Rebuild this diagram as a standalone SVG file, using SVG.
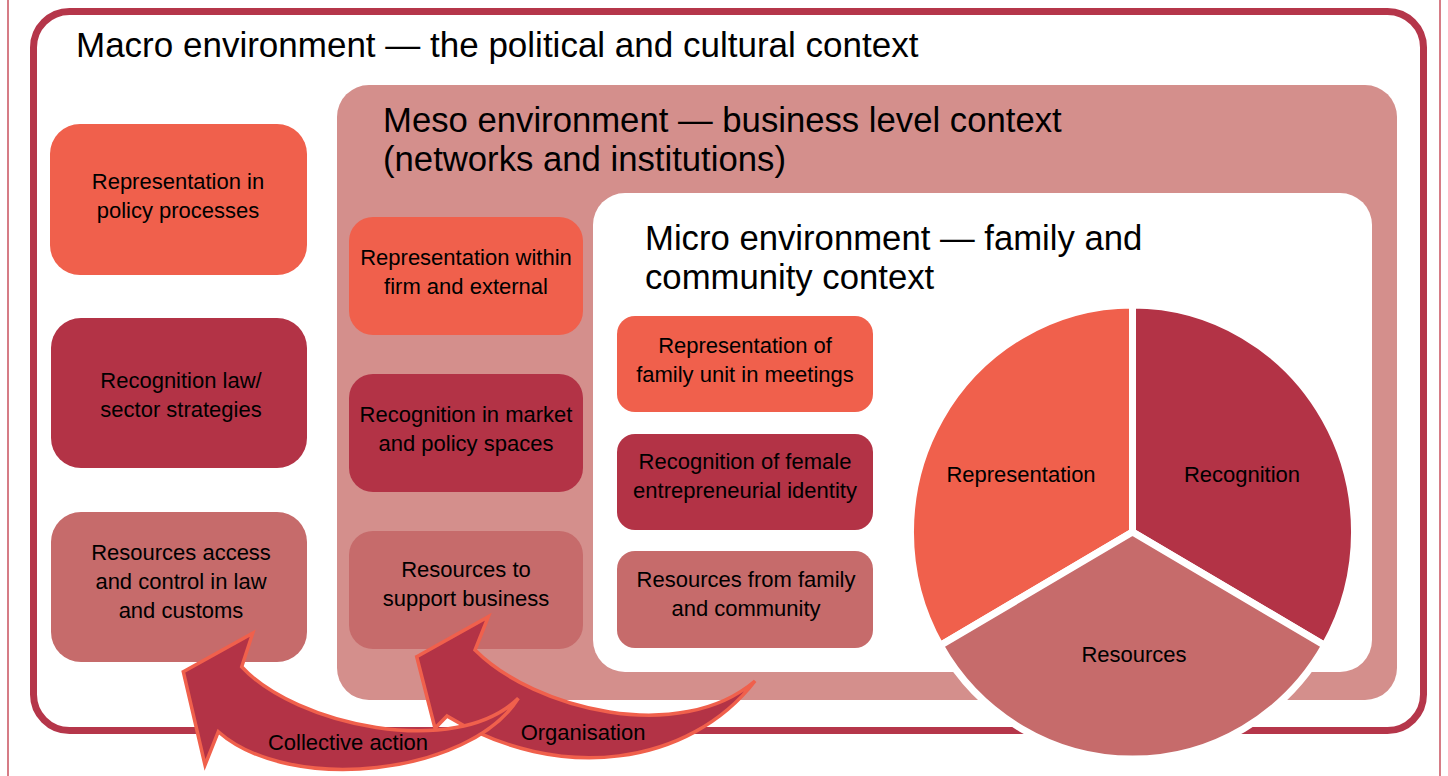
<svg xmlns="http://www.w3.org/2000/svg" width="1448" height="776" viewBox="0 0 1448 776">
<style>
text{font-family:"Liberation Sans",Arial,sans-serif;fill:#000}
.title{font-size:35px}
.title2{font-size:34.7px}
.lbl{font-size:22px;text-anchor:middle}
.rep{fill:#F0604C}
.rec{fill:#B33346}
.res{fill:#C66B6B}
.arrow{fill:#B33346;stroke:#F0604C;stroke-width:3.5;stroke-linejoin:miter}
.slice{stroke:#fff;stroke-width:7;stroke-linejoin:miter}
</style>
<rect x="0" y="0" width="1448" height="776" fill="#fff"/>
<line x1="8" y1="0" x2="8" y2="776" stroke="#C8505E" stroke-width="1.5"/>
<line x1="1440" y1="0" x2="1440" y2="776" stroke="#C8505E" stroke-width="1.5"/>

<g id="macro">
<rect x="33.5" y="11.5" width="1390" height="719" rx="36" fill="#fff" stroke="#B5364A" stroke-width="7"/>
<text class="title" x="76" y="57">Macro environment — the political and cultural context</text>
</g>

<g id="meso">
<rect x="337" y="85" width="1060" height="615" rx="32" fill="#D48F8C"/>
<text class="title2" x="383" y="132">Meso environment — business level context</text>
<text class="title2" x="383" y="171">(networks and institutions)</text>
</g>

<g id="micro">
<rect x="593" y="193" width="779" height="479" rx="32" fill="#fff"/>
<text class="title2" x="645" y="250">Micro environment — family and</text>
<text class="title2" x="645" y="289">community context</text>
</g>

<g id="macro-representation">
<rect class="rep" x="50" y="124" width="257" height="151" rx="30"/>
<text class="lbl" x="178" y="189">Representation in</text>
<text class="lbl" x="178" y="218">policy processes</text>
</g>
<g id="macro-recognition">
<rect class="rec" x="51" y="318" width="256" height="150" rx="30"/>
<text class="lbl" x="181" y="388">Recognition law/</text>
<text class="lbl" x="181" y="417">sector strategies</text>
</g>
<g id="macro-resources">
<rect class="res" x="51" y="512" width="256" height="150" rx="30"/>
<text class="lbl" x="181" y="560">Resources access</text>
<text class="lbl" x="181" y="589">and control in law</text>
<text class="lbl" x="181" y="618">and customs</text>
</g>

<g id="meso-representation">
<rect class="rep" x="349" y="217" width="234" height="118" rx="24"/>
<text class="lbl" x="466" y="265">Representation within</text>
<text class="lbl" x="466" y="294">firm and external</text>
</g>
<g id="meso-recognition">
<rect class="rec" x="349" y="374" width="234" height="118" rx="24"/>
<text class="lbl" x="466" y="422">Recognition in market</text>
<text class="lbl" x="466" y="451">and policy spaces</text>
</g>
<g id="meso-resources">
<rect class="res" x="349" y="531" width="234" height="118" rx="24"/>
<text class="lbl" x="466" y="577">Resources to</text>
<text class="lbl" x="466" y="606">support business</text>
</g>

<g id="micro-representation">
<rect class="rep" x="617" y="316" width="256" height="96" rx="18"/>
<text class="lbl" x="745" y="353">Representation of</text>
<text class="lbl" x="745" y="382">family unit in meetings</text>
</g>
<g id="micro-recognition">
<rect class="rec" x="617" y="434" width="256" height="96" rx="18"/>
<text class="lbl" x="745" y="469">Recognition of female</text>
<text class="lbl" x="745" y="498">entrepreneurial identity</text>
</g>
<g id="micro-resources">
<rect class="res" x="617" y="551" width="256" height="97" rx="18"/>
<text class="lbl" x="746" y="587">Resources from family</text>
<text class="lbl" x="746" y="616">and community</text>
</g>

<g id="pie">
<g id="pie-representation">
<path class="slice rep" d="M1132.5,532 L1132.5,305 A222,227 0 0 0 940.2,645.5 Z"/>
<text class="lbl" x="1021" y="482">Representation</text>
</g>
<g id="pie-recognition">
<path class="slice rec" d="M1132.5,532 L1132.5,305 A222,227 0 0 1 1324.8,645.5 Z"/>
<text class="lbl" x="1242" y="482">Recognition</text>
</g>
<g id="pie-resources">
<path class="slice res" d="M1132.5,532 L1324.8,645.5 A222,227 0 0 1 940.2,645.5 Z"/>
<text class="lbl" x="1134" y="662">Resources</text>
</g>
</g>

<g id="connectors">
<g id="arrow-organisation">
<path class="arrow" d="M416.7,656.7 L488.3,616.7 L475,650 C535,710 680,745 755,681 C690,765 560,785 447,716 L435,728.3 Z"/>
<text class="lbl" x="583" y="740">Organisation</text>
</g>
<g id="arrow-collective">
<path class="arrow" d="M183.3,671.7 L252.7,633.3 L241.7,666.7 C295,725 455,760 518.3,698.3 C470,775 290,795 218.3,731.7 L205,765 Z"/>
<text class="lbl" x="348" y="750">Collective action</text>
</g>
</g>
</svg>
